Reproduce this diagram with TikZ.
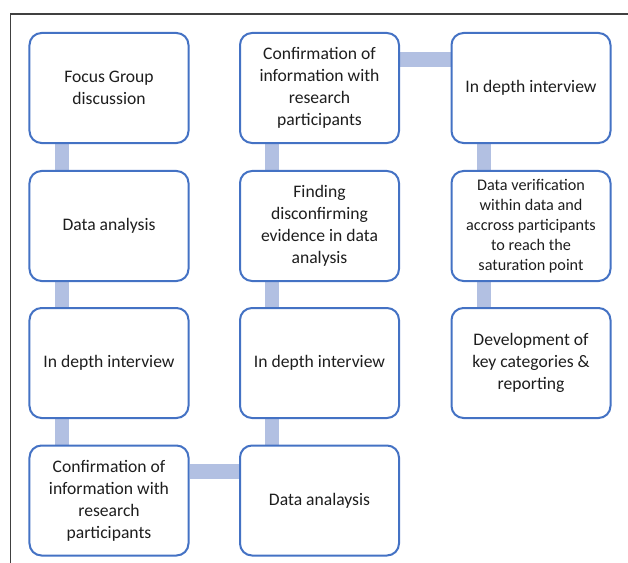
\documentclass[tikz,border=0pt]{standalone}
\usepackage{fontspec}
\setmainfont{Carlito}
\usetikzlibrary{backgrounds}
\definecolor{boxblue}{RGB}{68,114,196}
\definecolor{linkblue}{RGB}{178,192,226}
\definecolor{ink}{RGB}{30,30,30}
\begin{document}
\begin{tikzpicture}[x=1bp,y=-1bp,
  stepbox/.style={draw=boxblue, line width=2bp, rounded corners=12bp, fill=white,
    minimum width=159bp, minimum height=110bp, inner sep=0pt, align=center,
    text=ink, font=\fontsize{17.6bp}{22bp}\selectfont},
  smallbox/.style={stepbox, font=\fontsize{16.2bp}{20bp}\selectfont},
  link/.style={draw=linkblue, line width=14bp},
  hlink/.style={draw=linkblue, line width=15bp}]
\useasboundingbox (0,0) rectangle (628,563);
% outer frame (top and left edges)
\draw[line width=1.3bp, black!75] (10.5,563) -- (10.5,14) -- (628,14);

% column 1
\node[stepbox] (fg)  at (109,88)    {Focus Group\\discussion};
\node[stepbox] (da1) at (109,226)   {Data analysis};
\node[stepbox] (id1) at (109,363)   {In depth interview};
\node[stepbox] (cf1) at (109,500.5) {Confirmation of\\information with\\research\\participants};
% column 2
\node[stepbox] (cf2) at (319.5,88)    {Confirmation of\\information with\\research\\participants};
\node[stepbox] (fd)  at (319.5,226)   {Finding\\disconfirming\\evidence in data\\analysis};
\node[stepbox] (id2) at (319.5,363)   {In depth interview};
\node[stepbox] (da2) at (319.5,500.5) {Data analaysis};
% column 3
\node[stepbox]  (id3) at (531,88)  {In depth interview};
\node[smallbox] (dv)  at (531,226) {Data verification\\within data and\\accross participants\\to reach the\\saturation point};
\node[stepbox]  (dk)  at (531,363) {Development of\\key categories \&\\reporting};

% connectors behind the boxes
\begin{scope}[on background layer]
  \draw[link] ([xshift=33bp]fg.south west)  -- ([xshift=33bp]da1.north west);
  \draw[link] ([xshift=33bp]da1.south west) -- ([xshift=33bp]id1.north west);
  \draw[link] ([xshift=33bp]id1.south west) -- ([xshift=33bp]cf1.north west);
  \draw[hlink] ([yshift=-27bp]cf1.north east) -- ([yshift=-27bp]da2.north west);
  \draw[link] ([xshift=33bp]da2.north west) -- ([xshift=33bp]id2.south west);
  \draw[link] ([xshift=33bp]id2.north west) -- ([xshift=33bp]fd.south west);
  \draw[link] ([xshift=33bp]fd.north west)  -- ([xshift=33bp]cf2.south west);
  \draw[hlink] ([yshift=-28bp]cf2.north east) -- ([yshift=-28bp]id3.north west);
  \draw[link] ([xshift=33bp]id3.south west) -- ([xshift=33bp]dv.north west);
  \draw[link] ([xshift=33bp]dv.south west)  -- ([xshift=33bp]dk.north west);
\end{scope}
\end{tikzpicture}
\end{document}
